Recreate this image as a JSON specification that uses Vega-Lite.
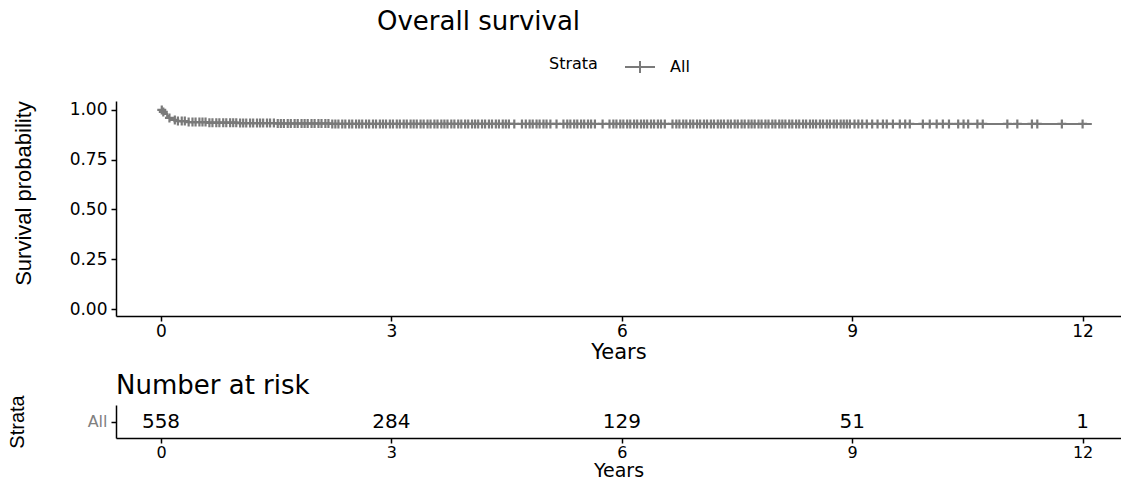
{
  "$schema": "https://vega.github.io/schema/vega-lite/v6.json",
  "background": "white",
  "padding": {"left": 7, "top": 8, "right": 0, "bottom": 0},
  "spacing": 10,
  "config": {
    "view": {"stroke": null},
    "font": "DejaVu Sans",
    "axis": {
      "grid": false,
      "domainColor": "black",
      "domainWidth": 1.5,
      "tickColor": "black",
      "tickWidth": 1.5,
      "tickSize": 5,
      "labelColor": "black",
      "labelFont": "DejaVu Sans",
      "labelFontSize": 17,
      "titleFont": "DejaVu Sans",
      "titleFontWeight": "normal",
      "titleColor": "black"
    }
  },
  "datasets": {
    "curve": [
      {"t": 0, "s": 1.0, "strata": "All"},
      {"t": 0.02, "s": 0.99, "strata": "All"},
      {"t": 0.05, "s": 0.98, "strata": "All"},
      {"t": 0.08, "s": 0.97, "strata": "All"},
      {"t": 0.1, "s": 0.96, "strata": "All"},
      {"t": 0.13, "s": 0.95, "strata": "All"},
      {"t": 0.2, "s": 0.944, "strata": "All"},
      {"t": 0.35, "s": 0.939, "strata": "All"},
      {"t": 0.6, "s": 0.936, "strata": "All"},
      {"t": 1.0, "s": 0.934, "strata": "All"},
      {"t": 1.5, "s": 0.932, "strata": "All"},
      {"t": 2.2, "s": 0.93, "strata": "All"},
      {"t": 12.12, "s": 0.93, "strata": "All"}
    ],
    "censor": [
      {"t": 0.01, "s": 1.0}, {"t": 0.03, "s": 0.99}, {"t": 0.11, "s": 0.96}, {"t": 0.18, "s": 0.95},
      {"t": 0.22, "s": 0.944}, {"t": 0.27, "s": 0.944}, {"t": 0.31, "s": 0.944}, {"t": 0.36, "s": 0.939},
      {"t": 0.41, "s": 0.939}, {"t": 0.45, "s": 0.939}, {"t": 0.5, "s": 0.939}, {"t": 0.54, "s": 0.939},
      {"t": 0.58, "s": 0.939}, {"t": 0.63, "s": 0.936}, {"t": 0.67, "s": 0.936}, {"t": 0.72, "s": 0.936},
      {"t": 0.76, "s": 0.936}, {"t": 0.81, "s": 0.936}, {"t": 0.85, "s": 0.936}, {"t": 0.9, "s": 0.936},
      {"t": 0.94, "s": 0.936}, {"t": 0.98, "s": 0.936}, {"t": 1.03, "s": 0.934}, {"t": 1.07, "s": 0.934},
      {"t": 1.11, "s": 0.934}, {"t": 1.16, "s": 0.934}, {"t": 1.2, "s": 0.934}, {"t": 1.25, "s": 0.934},
      {"t": 1.29, "s": 0.934}, {"t": 1.33, "s": 0.934}, {"t": 1.38, "s": 0.934}, {"t": 1.42, "s": 0.934},
      {"t": 1.47, "s": 0.934}, {"t": 1.52, "s": 0.932}, {"t": 1.56, "s": 0.932}, {"t": 1.6, "s": 0.932},
      {"t": 1.65, "s": 0.932}, {"t": 1.69, "s": 0.932}, {"t": 1.74, "s": 0.932}, {"t": 1.78, "s": 0.932},
      {"t": 1.83, "s": 0.932}, {"t": 1.87, "s": 0.932}, {"t": 1.91, "s": 0.932}, {"t": 1.96, "s": 0.932},
      {"t": 2.0, "s": 0.932}, {"t": 2.05, "s": 0.932}, {"t": 2.09, "s": 0.932}, {"t": 2.14, "s": 0.932},
      {"t": 2.18, "s": 0.932}, {"t": 2.23, "s": 0.93}, {"t": 2.27, "s": 0.93}, {"t": 2.31, "s": 0.93},
      {"t": 2.36, "s": 0.93}, {"t": 2.4, "s": 0.93}, {"t": 2.45, "s": 0.93}, {"t": 2.49, "s": 0.93},
      {"t": 2.54, "s": 0.93}, {"t": 2.58, "s": 0.93}, {"t": 2.62, "s": 0.93}, {"t": 2.67, "s": 0.93},
      {"t": 2.71, "s": 0.93}, {"t": 2.76, "s": 0.93}, {"t": 2.8, "s": 0.93}, {"t": 2.85, "s": 0.93},
      {"t": 2.89, "s": 0.93}, {"t": 2.93, "s": 0.93}, {"t": 2.98, "s": 0.93}, {"t": 3.02, "s": 0.93},
      {"t": 3.07, "s": 0.93}, {"t": 3.11, "s": 0.93}, {"t": 3.16, "s": 0.93}, {"t": 3.2, "s": 0.93},
      {"t": 3.25, "s": 0.93}, {"t": 3.29, "s": 0.93}, {"t": 3.33, "s": 0.93}, {"t": 3.38, "s": 0.93},
      {"t": 3.42, "s": 0.93}, {"t": 3.47, "s": 0.93}, {"t": 3.51, "s": 0.93}, {"t": 3.56, "s": 0.93},
      {"t": 3.6, "s": 0.93}, {"t": 3.65, "s": 0.93}, {"t": 3.69, "s": 0.93}, {"t": 3.73, "s": 0.93},
      {"t": 3.78, "s": 0.93}, {"t": 3.82, "s": 0.93}, {"t": 3.87, "s": 0.93}, {"t": 3.91, "s": 0.93},
      {"t": 3.96, "s": 0.93}, {"t": 4.0, "s": 0.93}, {"t": 4.05, "s": 0.93}, {"t": 4.09, "s": 0.93},
      {"t": 4.13, "s": 0.93}, {"t": 4.18, "s": 0.93}, {"t": 4.22, "s": 0.93}, {"t": 4.27, "s": 0.93},
      {"t": 4.31, "s": 0.93}, {"t": 4.36, "s": 0.93}, {"t": 4.4, "s": 0.93}, {"t": 4.45, "s": 0.93},
      {"t": 4.49, "s": 0.93}, {"t": 4.53, "s": 0.93}, {"t": 4.6, "s": 0.93}, {"t": 4.7, "s": 0.93},
      {"t": 4.75, "s": 0.93}, {"t": 4.8, "s": 0.93}, {"t": 4.84, "s": 0.93}, {"t": 4.89, "s": 0.93},
      {"t": 4.93, "s": 0.93}, {"t": 4.98, "s": 0.93}, {"t": 5.02, "s": 0.93}, {"t": 5.07, "s": 0.93},
      {"t": 5.15, "s": 0.93}, {"t": 5.24, "s": 0.93}, {"t": 5.29, "s": 0.93}, {"t": 5.33, "s": 0.93},
      {"t": 5.38, "s": 0.93}, {"t": 5.42, "s": 0.93}, {"t": 5.47, "s": 0.93}, {"t": 5.51, "s": 0.93},
      {"t": 5.56, "s": 0.93}, {"t": 5.6, "s": 0.93}, {"t": 5.65, "s": 0.93}, {"t": 5.75, "s": 0.93},
      {"t": 5.84, "s": 0.93}, {"t": 5.89, "s": 0.93}, {"t": 5.93, "s": 0.93}, {"t": 5.98, "s": 0.93},
      {"t": 6.02, "s": 0.93}, {"t": 6.07, "s": 0.93}, {"t": 6.11, "s": 0.93}, {"t": 6.16, "s": 0.93},
      {"t": 6.2, "s": 0.93}, {"t": 6.25, "s": 0.93}, {"t": 6.29, "s": 0.93}, {"t": 6.33, "s": 0.93},
      {"t": 6.38, "s": 0.93}, {"t": 6.42, "s": 0.93}, {"t": 6.47, "s": 0.93}, {"t": 6.51, "s": 0.93},
      {"t": 6.56, "s": 0.93}, {"t": 6.66, "s": 0.93}, {"t": 6.71, "s": 0.93}, {"t": 6.75, "s": 0.93},
      {"t": 6.8, "s": 0.93}, {"t": 6.84, "s": 0.93}, {"t": 6.89, "s": 0.93}, {"t": 6.93, "s": 0.93},
      {"t": 6.98, "s": 0.93}, {"t": 7.02, "s": 0.93}, {"t": 7.07, "s": 0.93}, {"t": 7.11, "s": 0.93},
      {"t": 7.16, "s": 0.93}, {"t": 7.2, "s": 0.93}, {"t": 7.25, "s": 0.93}, {"t": 7.29, "s": 0.93},
      {"t": 7.33, "s": 0.93}, {"t": 7.38, "s": 0.93}, {"t": 7.42, "s": 0.93}, {"t": 7.47, "s": 0.93},
      {"t": 7.51, "s": 0.93}, {"t": 7.56, "s": 0.93}, {"t": 7.6, "s": 0.93}, {"t": 7.65, "s": 0.93},
      {"t": 7.69, "s": 0.93}, {"t": 7.73, "s": 0.93}, {"t": 7.78, "s": 0.93}, {"t": 7.82, "s": 0.93},
      {"t": 7.87, "s": 0.93}, {"t": 7.91, "s": 0.93}, {"t": 7.96, "s": 0.93}, {"t": 8.0, "s": 0.93},
      {"t": 8.05, "s": 0.93}, {"t": 8.09, "s": 0.93}, {"t": 8.13, "s": 0.93}, {"t": 8.18, "s": 0.93},
      {"t": 8.22, "s": 0.93}, {"t": 8.27, "s": 0.93}, {"t": 8.31, "s": 0.93}, {"t": 8.36, "s": 0.93},
      {"t": 8.4, "s": 0.93}, {"t": 8.45, "s": 0.93}, {"t": 8.49, "s": 0.93}, {"t": 8.53, "s": 0.93},
      {"t": 8.58, "s": 0.93}, {"t": 8.62, "s": 0.93}, {"t": 8.67, "s": 0.93}, {"t": 8.71, "s": 0.93},
      {"t": 8.76, "s": 0.93}, {"t": 8.8, "s": 0.93}, {"t": 8.85, "s": 0.93}, {"t": 8.89, "s": 0.93},
      {"t": 8.93, "s": 0.93}, {"t": 8.97, "s": 0.93}, {"t": 9.03, "s": 0.93}, {"t": 9.08, "s": 0.93},
      {"t": 9.13, "s": 0.93}, {"t": 9.19, "s": 0.93}, {"t": 9.26, "s": 0.93}, {"t": 9.33, "s": 0.93},
      {"t": 9.4, "s": 0.93}, {"t": 9.45, "s": 0.93}, {"t": 9.53, "s": 0.93}, {"t": 9.62, "s": 0.93},
      {"t": 9.69, "s": 0.93}, {"t": 9.75, "s": 0.93}, {"t": 9.92, "s": 0.93}, {"t": 10.01, "s": 0.93},
      {"t": 10.1, "s": 0.93}, {"t": 10.18, "s": 0.93}, {"t": 10.26, "s": 0.93}, {"t": 10.38, "s": 0.93},
      {"t": 10.45, "s": 0.93}, {"t": 10.51, "s": 0.93}, {"t": 10.63, "s": 0.93}, {"t": 10.7, "s": 0.93},
      {"t": 11.02, "s": 0.93}, {"t": 11.15, "s": 0.93}, {"t": 11.34, "s": 0.93}, {"t": 11.41, "s": 0.93},
      {"t": 11.73, "s": 0.93}, {"t": 12.0, "s": 0.93}
    ],
    "risk": [
      {"t": 0, "n": 558, "strata": "All"},
      {"t": 3, "n": 284, "strata": "All"},
      {"t": 6, "n": 129, "strata": "All"},
      {"t": 9, "n": 51, "strata": "All"},
      {"t": 12, "n": 1, "strata": "All"}
    ]
  },
  "vconcat": [
    {
      "width": 1005,
      "height": 215,
      "title": {"text": "Overall survival", "anchor": "start", "frame": "group", "dx": 261, "fontSize": 26, "font": "DejaVu Sans", "fontWeight": "normal", "color": "black", "offset": 66},
      "layer": [
        {
          "data": {"name": "curve"},
          "mark": {"type": "line", "interpolate": "step-after", "strokeWidth": 2},
          "encoding": {
            "x": {"field": "t", "type": "quantitative", "scale": {"domain": [-0.586, 12.5], "nice": false, "zero": false},
                  "axis": {"values": [0, 3, 6, 9, 12], "format": "d", "title": "Years", "titleFontSize": 21, "labelPadding": 2, "titlePadding": 2}},
            "y": {"field": "s", "type": "quantitative", "scale": {"domain": [-0.035, 1.045], "nice": false, "zero": false},
                  "axis": {"values": [0, 0.25, 0.5, 0.75, 1], "format": ".2f", "title": "Survival probability", "titleFont": "Liberation Sans", "titleFontSize": 22, "titlePadding": 34, "titleY": 92, "labelPadding": 4}},
            "color": {"field": "strata", "type": "nominal", "scale": {"domain": ["All"], "range": ["#7a7a7a"]},
                      "legend": {"orient": "none", "legendX": 433, "legendY": -50, "direction": "horizontal", "titleOrient": "left", "title": "Strata",
                                 "titleFontSize": 16, "titleFont": "DejaVu Sans", "titleFontWeight": "normal", "titleColor": "black", "titlePadding": 26,
                                 "labelFontSize": 16, "labelFont": "DejaVu Sans", "labelColor": "black", "labelOffset": 14,
                                 "symbolType": "M-1,0H1M0,-0.4V0.4", "symbolSize": 900, "symbolStrokeWidth": 2, "symbolStrokeColor": "#7a7a7a", "symbolFillColor": "transparent"}}
          }
        },
        {
          "data": {"name": "censor"},
          "mark": {"type": "point", "shape": "M-1,0H1M0,-1V1", "filled": false, "size": 81, "strokeWidth": 2.2, "color": "#7a7a7a", "opacity": 1},
          "encoding": {
            "x": {"field": "t", "type": "quantitative"},
            "y": {"field": "s", "type": "quantitative"}
          }
        }
      ]
    },
    {
      "width": 1005,
      "height": 33,
      "title": {"text": "Number at risk", "anchor": "start", "frame": "group", "fontSize": 26, "font": "DejaVu Sans", "fontWeight": "normal", "color": "black", "offset": -4},
      "data": {"name": "risk"},
      "mark": {"type": "text", "fontSize": 20, "color": "black", "font": "DejaVu Sans"},
      "encoding": {
        "x": {"field": "t", "type": "quantitative", "scale": {"domain": [-0.586, 12.5], "nice": false, "zero": false},
              "axis": {"values": [0, 3, 6, 9, 12], "format": "d", "title": "Years", "titleFontSize": 19, "labelFontSize": 16, "labelPadding": 1, "titlePadding": 1}},
        "y": {"field": "strata", "type": "nominal",
              "axis": {"title": "Strata", "titleFont": "Liberation Sans", "titleFontSize": 20, "labelColor": "#808080", "labelFontSize": 16, "labelPadding": 4, "titlePadding": 60}},
        "text": {"field": "n", "type": "quantitative"}
      }
    }
  ]
}
